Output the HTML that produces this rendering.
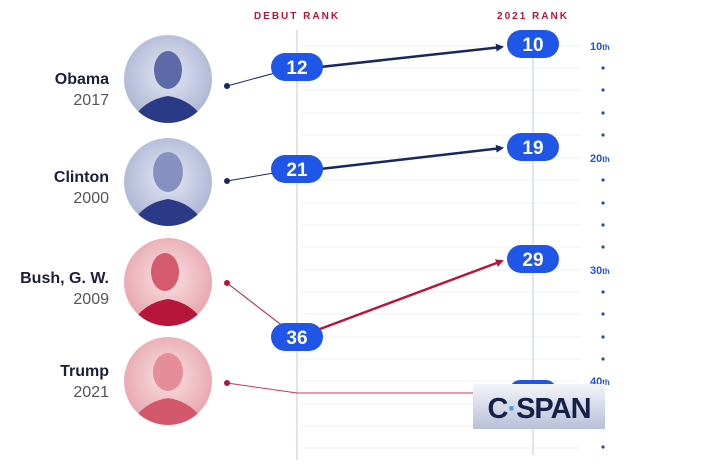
<!DOCTYPE html>
<html><head><style>
body{margin:0;background:#fff;}
svg{display:block;font-family:"Liberation Sans",sans-serif;}
</style></head><body>
<svg width="716" height="474" viewBox="0 0 716 474">
<defs>
<radialGradient id="gb" cx="50%" cy="45%" r="55%"><stop offset="0" stop-color="#e4e7f2"/><stop offset="1" stop-color="#aeb6d6"/></radialGradient>
<radialGradient id="gr" cx="50%" cy="45%" r="55%"><stop offset="0" stop-color="#f8e2e4"/><stop offset="1" stop-color="#e8a6ae"/></radialGradient>
<linearGradient id="cs" x1="0" y1="0" x2="0" y2="1"><stop offset="0" stop-color="#f4f5fa"/><stop offset="1" stop-color="#b9bfd6"/></linearGradient>
<clipPath id="c1"><circle cx="168" cy="79" r="44"/></clipPath>
<clipPath id="c2"><circle cx="168" cy="182" r="44"/></clipPath>
<clipPath id="c3"><circle cx="168" cy="282" r="44"/></clipPath>
<clipPath id="c4"><circle cx="168" cy="381" r="44"/></clipPath>
<marker id="an" markerWidth="8" markerHeight="8" refX="6" refY="4" orient="auto" markerUnits="userSpaceOnUse"><path d="M0,0 L8,4 L0,8z" fill="#1a2660"/></marker>
<marker id="ar" markerWidth="8" markerHeight="8" refX="6" refY="4" orient="auto" markerUnits="userSpaceOnUse"><path d="M0,0 L8,4 L0,8z" fill="#b5163a"/></marker>
</defs>
<g stroke="#eef0f6" stroke-width="1">
<line x1="300" y1="46" x2="580" y2="46"/><line x1="300" y1="68" x2="580" y2="68"/><line x1="300" y1="90" x2="580" y2="90"/><line x1="300" y1="113" x2="580" y2="113"/><line x1="300" y1="135" x2="580" y2="135"/><line x1="300" y1="158" x2="580" y2="158"/><line x1="300" y1="180" x2="580" y2="180"/><line x1="300" y1="203" x2="580" y2="203"/><line x1="300" y1="225" x2="580" y2="225"/><line x1="300" y1="247" x2="580" y2="247"/><line x1="300" y1="270" x2="580" y2="270"/><line x1="300" y1="292" x2="580" y2="292"/><line x1="300" y1="314" x2="580" y2="314"/><line x1="300" y1="337" x2="580" y2="337"/><line x1="300" y1="359" x2="580" y2="359"/><line x1="300" y1="381" x2="580" y2="381"/><line x1="300" y1="404" x2="580" y2="404"/><line x1="300" y1="426" x2="580" y2="426"/><line x1="300" y1="448" x2="580" y2="448"/>
</g>
<line x1="297" y1="30" x2="297" y2="460" stroke="#dfe3ef" stroke-width="2"/>
<line x1="533" y1="30" x2="533" y2="455" stroke="#dfe3ef" stroke-width="2"/>
<text x="297" y="19" text-anchor="middle" font-size="10" font-weight="bold" fill="#b5163a" letter-spacing="2">DEBUT RANK</text>
<text x="533" y="19" text-anchor="middle" font-size="10" font-weight="bold" fill="#b5163a" letter-spacing="2">2021 RANK</text>
<g fill="#2550d8" font-weight="bold">
<text x="590" y="50" font-size="11">10<tspan font-size="8">th</tspan></text>
<text x="590" y="162" font-size="11">20<tspan font-size="8">th</tspan></text>
<text x="590" y="274" font-size="11">30<tspan font-size="8">th</tspan></text>
<text x="590" y="385" font-size="11">40<tspan font-size="8">th</tspan></text>
</g>
<g fill="#2a4aa8">
<circle cx="603" cy="68" r="1.6"/><circle cx="603" cy="90" r="1.6"/><circle cx="603" cy="113" r="1.6"/><circle cx="603" cy="135" r="1.6"/>
<circle cx="603" cy="180" r="1.6"/><circle cx="603" cy="203" r="1.6"/><circle cx="603" cy="225" r="1.6"/><circle cx="603" cy="247" r="1.6"/>
<circle cx="603" cy="292" r="1.6"/><circle cx="603" cy="314" r="1.6"/><circle cx="603" cy="337" r="1.6"/><circle cx="603" cy="359" r="1.6"/>
<circle cx="603" cy="447" r="1.6"/>
</g>
<circle cx="168" cy="79" r="44" fill="url(#gb)"/>
<g clip-path="url(#c1)"><path d="M126,130 Q140,100 168,96 Q196,100 210,130z" fill="#2b3a86"/>
<ellipse cx="168" cy="70" rx="14" ry="19" fill="#5e6aa8"/></g>
<circle cx="168" cy="182" r="44" fill="url(#gb)"/>
<g clip-path="url(#c2)"><path d="M126,233 Q140,203 168,199 Q196,203 210,233z" fill="#2b3a86"/>
<ellipse cx="168" cy="172" rx="15" ry="20" fill="#8690c2"/></g>
<circle cx="168" cy="282" r="44" fill="url(#gr)"/>
<g clip-path="url(#c3)"><path d="M126,333 Q140,303 168,299 Q196,303 210,333z" fill="#b5163a"/>
<ellipse cx="165" cy="272" rx="14" ry="19" fill="#d45a6e"/></g>
<circle cx="168" cy="381" r="44" fill="url(#gr)"/>
<g clip-path="url(#c4)"><path d="M126,432 Q140,402 168,398 Q196,402 210,432z" fill="#d4586c"/>
<ellipse cx="168" cy="372" rx="15" ry="19" fill="#e58e9a"/></g>
<g text-anchor="end" font-size="16">
<text x="109" y="84" font-weight="bold" fill="#1a1f3a">Obama</text><text x="109" y="105" fill="#555">2017</text>
<text x="109" y="182" font-weight="bold" fill="#1a1f3a">Clinton</text><text x="109" y="203" fill="#555">2000</text>
<text x="109" y="283" font-weight="bold" fill="#1a1f3a">Bush, G. W.</text><text x="109" y="304" fill="#555">2009</text>
<text x="109" y="376" font-weight="bold" fill="#1a1f3a">Trump</text><text x="109" y="397" fill="#555">2021</text>
</g>
<line x1="227" y1="86" x2="297" y2="67" stroke="#1a2660" stroke-width="1"/><circle cx="227" cy="86" r="3" fill="#1a2660"/>
<line x1="227" y1="181" x2="297" y2="169" stroke="#1a2660" stroke-width="1"/><circle cx="227" cy="181" r="3" fill="#1a2660"/>
<line x1="227" y1="283" x2="297" y2="337" stroke="#b5163a" stroke-width="1"/><circle cx="227" cy="283" r="3" fill="#b5163a"/>
<polyline points="227,383 297,393 533,393" fill="none" stroke="#c43a55" stroke-width="1"/><circle cx="227" cy="383" r="3" fill="#b5163a"/>
<line x1="320" y1="67" x2="502" y2="47" stroke="#1a2660" stroke-width="2.5" marker-end="url(#an)"/>
<line x1="320" y1="169" x2="502" y2="148" stroke="#1a2660" stroke-width="2.5" marker-end="url(#an)"/>
<line x1="320" y1="329" x2="502" y2="261" stroke="#b5163a" stroke-width="2.5" marker-end="url(#ar)"/>
<g fill="#1f56e8">
<rect x="271" y="53" width="52" height="28" rx="14"/>
<rect x="507" y="30" width="52" height="28" rx="14"/>
<rect x="271" y="155" width="52" height="28" rx="14"/>
<rect x="507" y="133" width="52" height="28" rx="14"/>
<rect x="271" y="323" width="52" height="28" rx="14"/>
<rect x="507" y="245" width="52" height="28" rx="14"/>
<rect x="510" y="380" width="46" height="20" rx="10"/>
</g>
<g fill="#fff" font-size="19" font-weight="bold" text-anchor="middle">
<text x="297" y="74">12</text><text x="533" y="51">10</text>
<text x="297" y="176">21</text><text x="533" y="154">19</text>
<text x="297" y="344">36</text><text x="533" y="266">29</text>
</g>
<rect x="473" y="384" width="132" height="45" fill="url(#cs)"/>
<text x="539" y="418" text-anchor="middle" font-size="29" font-weight="bold" fill="#16214a" letter-spacing="-1">C<tspan fill="#3aa0e0">·</tspan>SPAN</text>
</svg>
</body></html>
